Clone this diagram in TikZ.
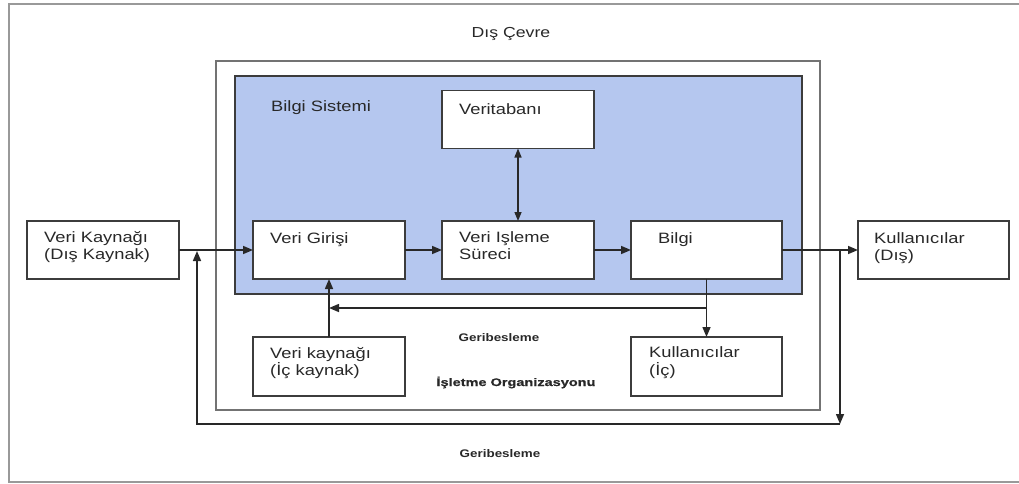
\documentclass[tikz,border=0pt]{standalone}
\usepackage{fontspec}
\setmainfont[FakeStretch=1.22]{Liberation Sans}
\newfontfamily\widebold[FakeStretch=1.32,FakeBold=0.6]{Liberation Sans Bold}
\usetikzlibrary{arrows.meta}
\definecolor{sysblue}{RGB}{181,199,239}
\definecolor{ink}{RGB}{40,40,40}
\definecolor{edge}{RGB}{60,60,60}
\begin{document}
\begin{tikzpicture}[x=1pt,y=-1pt,
  box/.style={draw=edge,line width=1.8pt,fill=white,rectangle,inner sep=0pt,outer sep=0pt,
              minimum width=152pt,minimum height=58pt},
  txt/.style={anchor=base west,inner sep=0pt,text=ink,font=\fontsize{15}{17}\selectfont},
  small/.style={anchor=base,inner sep=0pt,text=ink,font=\fontsize{11}{13}\selectfont\bfseries},
  arr/.style={draw=ink,line width=1.5pt,-{Triangle[length=10pt,width=8pt]}},
  biarr/.style={draw=ink,line width=1.4pt,{Triangle[length=9pt,width=7pt]}-{Triangle[length=9pt,width=7pt]}},
  ln/.style={draw=ink,line width=1.5pt}]
\useasboundingbox (0,0) rectangle (1019,484);

% outer environment frame (right side runs off the page)
\draw[draw=gray!80,line width=2.4pt] (1030,4) -- (9,4) -- (9,482) -- (1030,482);
\node[anchor=base,inner sep=0pt,text=ink,font=\fontsize{14.5}{17}\selectfont] (env) at (511,38) {Dış Çevre};

% organisation frame and information-system panel
\draw[draw=gray!90!black,line width=1.8pt] (216,61) rectangle (820,410);
\draw[draw=edge,line width=1.8pt,fill=sysblue] (235,76) rectangle (802,294);
\node[txt] (bs) at (271,112) {Bilgi Sistemi};

% boxes
\node[box] (vt)    at (518,119.5) {};
\node[box] (vg)    at (329,250) {};
\node[box] (vis)   at (518,250) {};
\node[box,minimum width=151pt] (bilgi) at (706.5,250) {};
\node[box] (vkd)   at (103,250) {};
\node[box,minimum width=151pt] (kd)    at (933.5,250) {};
\node[box,minimum height=59pt] (vki)   at (329,366.5) {};
\node[box,minimum width=151pt,minimum height=59pt] (ki) at (706.5,366.5) {};

% box texts
\node[txt] (vtT)   at (459,115) {Veritabanı};
\node[txt] (vgT)   at (270,243) {Veri Girişi};
\node[txt] (visT1) at (459,242) {Veri Işleme};
\node[txt] (visT2) at (459,259) {Süreci};
\node[txt] (bilT)  at (658,243) {Bilgi};
\node[txt] (vkdT1) at (44,242) {Veri Kaynağı};
\node[txt] (vkdT2) at (44,259) {(Dış Kaynak)};
\node[txt] (kdT1)  at (874,243) {Kullanıcılar};
\node[txt] (kdT2)  at (874,260) {(Dış)};
\node[txt] (vkiT1) at (270,358) {Veri kaynağı};
\node[txt] (vkiT2) at (270,375) {(İç kaynak)};
\node[txt] (kiT1)  at (649,357) {Kullanıcılar};
\node[txt] (kiT2)  at (649,375) {(İç)};

% labels
\node[small] (fbIn)  at (499,341) {Geribesleme};
\node[small,font=\fontsize{11}{13}\selectfont\widebold] (org) at (516,386) {İşletme Organizasyonu};
\node[small] (fbOut) at (500,457) {Geribesleme};

% main flow
\draw[arr] (vkd.east) -- (vg.west);
\draw[arr] (vg.east) -- (vis.west);
\draw[arr] (vis.east) -- (bilgi.west);
\draw[arr] (bilgi.east) -- (kd.west);
\draw[biarr] (vt.south) -- (vis.north);

% internal feedback and internal users
\coordinate (fbSplit) at (706.5,308);
\draw[arr] (bilgi.south) -- (ki.north);
\draw[arr] (fbSplit) -- (vg.south |- fbSplit);
\draw[arr] (vki.north) -- (vg.south);

% external feedback loop
\coordinate (outTap) at (840,250);
\coordinate (outBR)  at (840,424);
\coordinate (outBL)  at (197,424);
\coordinate (inTap)  at (197,251);
\draw[arr] (outTap) -- (outBR);
\draw[arr] (outBR) -- (outBL) -- (inTap);
\end{tikzpicture}
\end{document}
